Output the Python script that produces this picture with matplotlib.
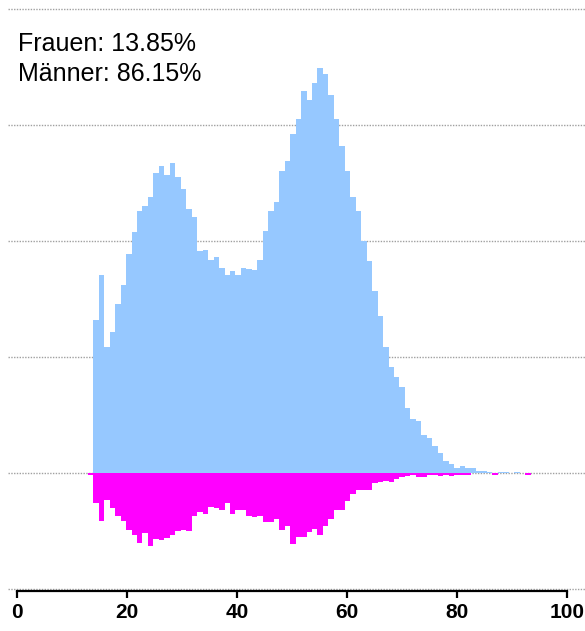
import numpy as np
import matplotlib
matplotlib.use('Agg')
import matplotlib.pyplot as plt

plt.rcParams['font.family'] = ['Liberation Sans', 'DejaVu Sans']

# ages 13..93, one bin per year (heights in grid units, one dotted line = 1)
ages = np.arange(13, 94)

maenner = [0.00,
           1.32, 1.71, 1.09, 1.22, 1.46, 1.62, 1.89, 2.08, 2.26, 2.30,
           2.38, 2.59, 2.65, 2.57, 2.67, 2.55, 2.45, 2.28, 2.21, 1.91,
           1.92, 1.84, 1.86, 1.77, 1.71, 1.74, 1.71, 1.77, 1.76, 1.75,
           1.84, 2.09, 2.26, 2.34, 2.60, 2.69, 2.92, 3.05, 3.29, 3.22,
           3.36, 3.49, 3.44, 3.26, 3.05, 2.82, 2.60, 2.38, 2.26, 2.00,
           1.83, 1.57, 1.35, 1.09, 0.91, 0.83, 0.74, 0.56, 0.47, 0.45,
           0.33, 0.30, 0.23, 0.17, 0.10, 0.08, 0.04, 0.06, 0.04, 0.04,
           0.02, 0.02, 0.01, 0.00, 0.01, 0.01, 0.00, 0.01, 0.00, 0.00]

frauen = [0.02,
          0.26, 0.41, 0.23, 0.30, 0.37, 0.41, 0.49, 0.53, 0.60, 0.52,
          0.63, 0.57, 0.58, 0.56, 0.53, 0.50, 0.49, 0.50, 0.37, 0.34,
          0.35, 0.29, 0.30, 0.32, 0.26, 0.35, 0.32, 0.32, 0.37, 0.38,
          0.37, 0.42, 0.42, 0.40, 0.49, 0.46, 0.61, 0.55, 0.55, 0.51,
          0.48, 0.53, 0.46, 0.40, 0.32, 0.32, 0.24, 0.18, 0.15, 0.15,
          0.15, 0.09, 0.075, 0.07, 0.08, 0.05, 0.03, 0.026, 0.02, 0.03,
          0.03, 0.02, 0.02, 0.026, 0.02, 0.026, 0.02, 0.02, 0.02, 0.00,
          0.00, 0.00, 0.00, 0.02, 0.00, 0.00, 0.00, 0.00, 0.00, 0.02]

anteil_frauen = 13.85
anteil_maenner = 86.15
xticks = [0, 20, 40, 60, 80, 100]

# bin edges: first bin starts at 13.87, width slightly under a year
bin_w = 0.9945
left = 13.87 + (ages - 14) * bin_w

fig = plt.figure(figsize=(5.85, 6.31), dpi=100)
ax = fig.add_axes([8 / 585, 40 / 631, 577 / 585, 591 / 631])

ax.bar(left, maenner, width=bin_w, align='edge', color='#96c8ff',
       linewidth=0, zorder=2)
ax.bar(left, -np.array(frauen), width=bin_w, align='edge', color='#ff00ff',
       linewidth=0, zorder=3)

ax.set_xlim(-1.64, 103.3)
ax.set_ylim(-1.017, 4.078)

# dotted horizontal grid
ax.set_yticks([-1, 0, 1, 2, 3, 4])
ax.tick_params(axis='y', length=0, labelleft=False)
ax.yaxis.grid(True, linestyle=(0, (1, 1)), color='#a0a0a0', linewidth=1)
ax.set_axisbelow(True)

for s in ['top', 'right', 'left']:
    ax.spines[s].set_visible(False)
ax.spines['bottom'].set_bounds(0, 100)
ax.spines['bottom'].set_linewidth(1.6)
ax.spines['bottom'].set_zorder(5)

ax.set_xticks(xticks)
ax.set_xticklabels([str(t) for t in xticks], fontsize=15, fontweight='bold')
ax.tick_params(axis='x', length=5, width=1.6, pad=3.5, color='black')

fig.text(18 / 585, 1 - 51 / 631, 'Frauen: %.2f%%' % anteil_frauen,
         fontsize=18, va='baseline', ha='left')
fig.text(18 / 585, 1 - 81 / 631, 'Männer: %.2f%%' % anteil_maenner,
         fontsize=18, va='baseline', ha='left')

fig.savefig('out.png', dpi=100)
